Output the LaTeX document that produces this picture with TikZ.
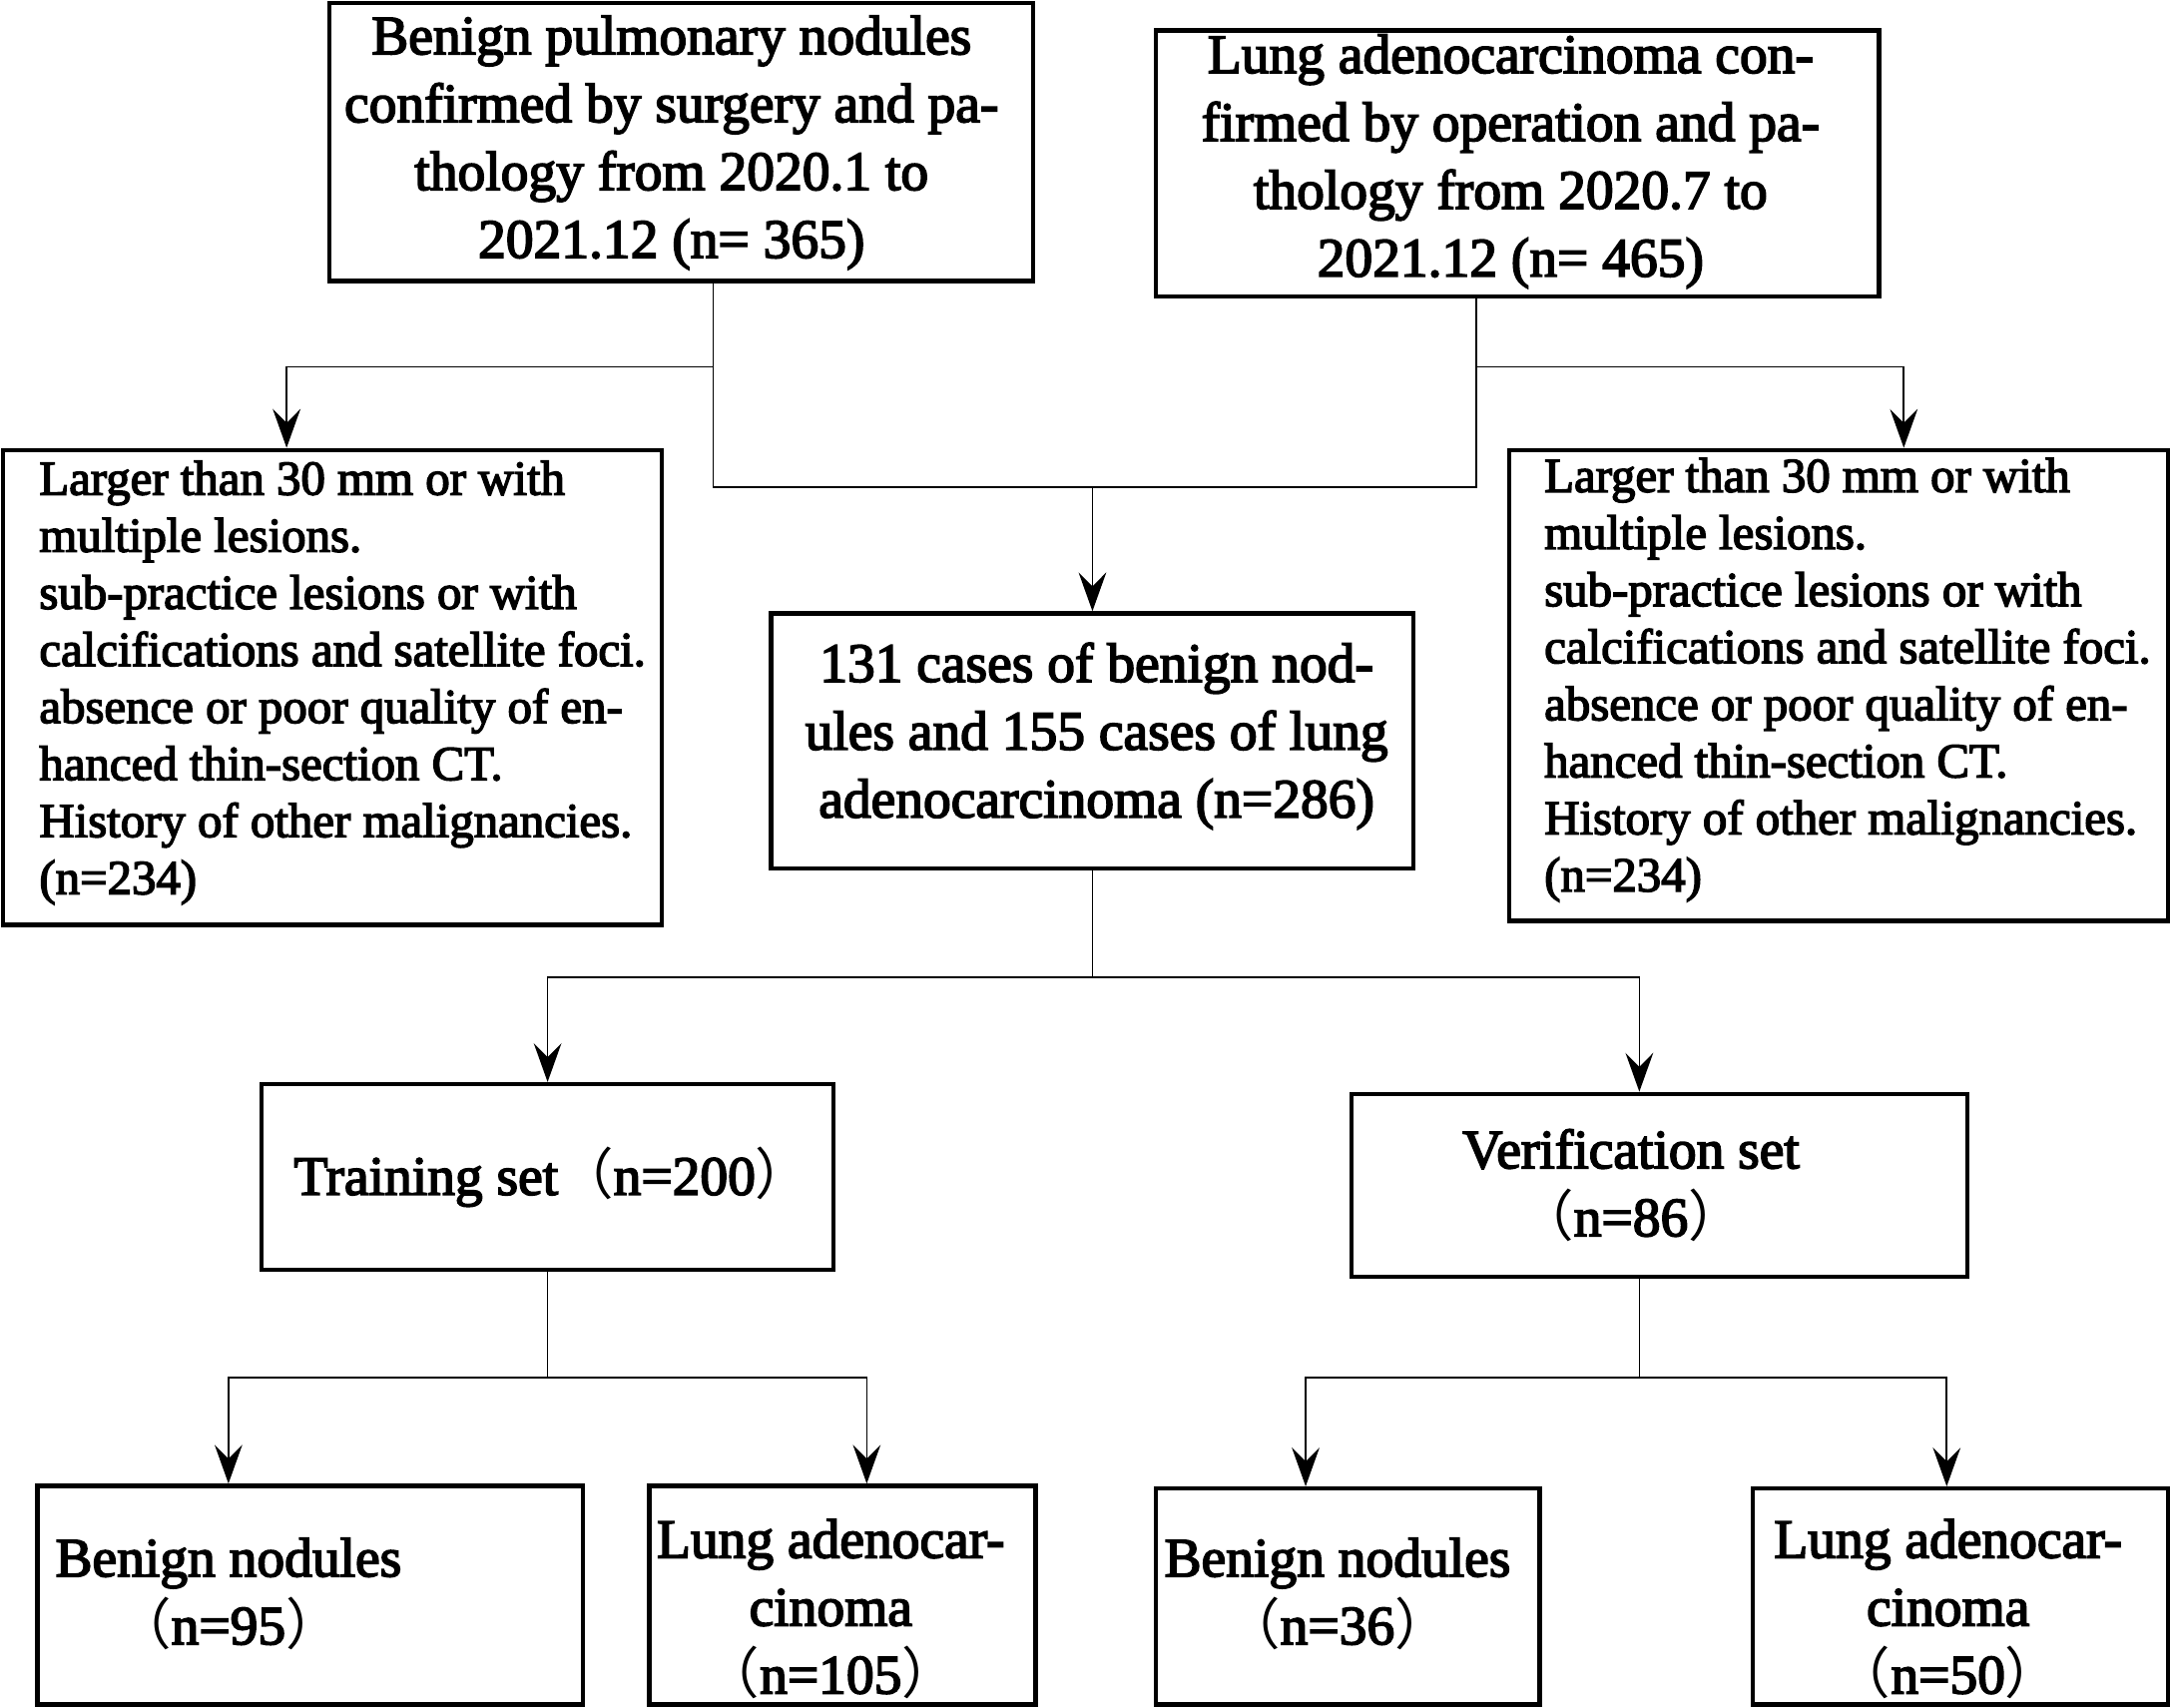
\documentclass[tikz,border=0pt]{standalone}
\usepackage{fontspec}
\setmainfont{Liberation Serif}
\newfontfamily\boldserif[FakeBold=3]{Liberation Serif}
\newfontfamily\cjkfont{Noto Sans CJK SC}
\usetikzlibrary{arrows.meta}
\newcommand{\fwl}{{\cjkfont （}}
\newcommand{\fwr}{{\cjkfont ）}}
\begin{document}
\begin{tikzpicture}[x=0.5pt,y=-0.5pt,
  box/.style={draw, line width=1.6pt, inner sep=0pt},
  txt/.style={inner sep=0pt, align=center, font=\boldserif\fontsize{20}{24.5}\selectfont},
  smalltxt/.style={inner sep=0pt, align=left, font=\boldserif\fontsize{17.6}{20.6}\selectfont},
  conn/.style={line width=0.6pt},
  arr/.style={line width=0.6pt, -{Stealth[length=14pt, width=10pt, inset=5pt]}}]
\useasboundingbox (0,0) rectangle (1568,1233);
% boxes
\node[box, minimum width=254pt, minimum height=100.5pt] (A) at (492,102.5) {};
\node[box, minimum width=261pt, minimum height=96pt] (B) at (1096,118) {};
\node[box, minimum width=238pt, minimum height=171.5pt] (C) at (240,496.5) {};
\node[box, minimum width=238pt, minimum height=170pt] (D) at (1328,495) {};
\node[box, minimum width=232pt, minimum height=92pt] (E) at (789,535) {};
\node[box, minimum width=206.5pt, minimum height=67pt] (F) at (395.5,850) {};
\node[box, minimum width=222.5pt, minimum height=66pt] (G) at (1198.5,856) {};
\node[box, minimum width=197pt, minimum height=79pt] (H) at (224,1152) {};
\node[box, minimum width=139.5pt, minimum height=79pt] (I) at (608.5,1152) {};
\node[box, minimum width=138.5pt, minimum height=78pt] (J) at (973.5,1153) {};
\node[box, minimum width=150pt, minimum height=78pt] (K) at (1416,1153) {};
% texts
\node[txt] (At) at (485,103) {Benign pulmonary nodules\\confirmed by surgery and pa-\\thology from 2020.1 to\\2021.12 (n= 365)};
\node[txt] (Bt) at (1091,116.5) {Lung adenocarcinoma con-\\firmed by operation and pa-\\thology from 2020.7 to\\2021.12 (n= 465)};
\node[smalltxt, anchor=west] (Ct) at (28,493) {Larger than 30 mm or with\\multiple lesions.\\sub-practice lesions or with\\calcifications and satellite foci.\\absence or poor quality of en-\\hanced thin-section CT.\\History of other malignancies.\\(n=234)};
\node[smalltxt, anchor=west] (Dt) at (1115,491) {Larger than 30 mm or with\\multiple lesions.\\sub-practice lesions or with\\calcifications and satellite foci.\\absence or poor quality of en-\\hanced thin-section CT.\\History of other malignancies.\\(n=234)};
\node[txt] (Et) at (792,531.5) {131 cases of benign nod-\\ules and 155 cases of lung\\adenocarcinoma (n=286)};
\node[txt] (Ft) at (399,850) {Training set\fwl n=200\fwr};
\node[txt] (Gt) at (1178,856) {Verification set\\\fwl n=86\fwr};
\node[txt] (Ht) at (165,1151) {Benign nodules\\\fwl n=95\fwr};
\node[txt] (It) at (600,1162) {Lung adenocar-\\cinoma\\\fwl n=105\fwr};
\node[txt] (Jt) at (966,1151) {Benign nodules\\\fwl n=36\fwr};
\node[txt] (Kt) at (1407,1162) {Lung adenocar-\\cinoma\\\fwl n=50\fwr};
% connectors
\coordinate (m1) at (789,352);
\coordinate (bA) at (515,265);
\coordinate (bB) at (1066,265);
\coordinate (m2) at (789,706);
\coordinate (m3) at (395.5,995);
\coordinate (m4) at (1184,995);
\draw[conn] ([xshift=11.5pt]A.south) |- (m1);
\draw[conn] ([xshift=-15pt]B.south) |- (m1);
\draw[arr] (bA) -| ([xshift=-16.5pt]C.north);
\draw[arr] (bB) -| ([xshift=23.5pt]D.north);
\draw[arr] (m1) -- (E.north);
\draw[conn] (E.south) -- (m2);
\draw[arr] (m2) -| (F.north);
\draw[arr] (m2) -| ([xshift=-7.25pt]G.north);
\draw[conn] (F.south) -- (m3);
\draw[arr] (m3) -| ([xshift=-29.5pt]H.north);
\draw[arr] (m3) -| ([xshift=8.75pt]I.north);
\draw[conn] ([xshift=-7.25pt]G.south) -- (m4);
\draw[arr] (m4) -| ([xshift=-15.25pt]J.north);
\draw[arr] (m4) -| ([xshift=-5pt]K.north);
\end{tikzpicture}
\end{document}
